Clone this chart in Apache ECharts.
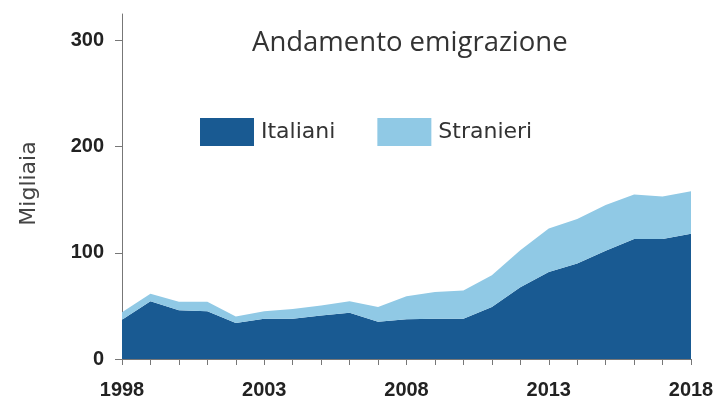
<!DOCTYPE html>
<html>
<head>
<meta charset="utf-8">
<script src="https://cdn.jsdelivr.net/npm/echarts@6/dist/echarts.min.js"></script>
<style>html,body{margin:0;padding:0;background:#fff;}#c{width:717px;height:403px;}</style>
</head>
<body>
<div id="c"></div>
<script>
const years = ['1998','1999','2000','2001','2002','2003','2004','2005','2006','2007','2008','2009','2010','2011','2012','2013','2014','2015','2016','2017','2018'];
const italiani = [37, 54.5, 46, 45, 34, 38, 38, 41, 43.5, 35, 37.5, 38, 38, 49, 67.5, 82, 90, 102, 113, 113, 118];
const stranieri = [7, 7, 8, 9, 6, 7, 9, 9.5, 11, 14, 21.5, 25, 26.5, 30, 35, 41, 42, 43, 42, 40, 40];
const yTicks = [0, 100, 200, 300];

const labelFont = {fontFamily: '"Liberation Sans",Arial,sans-serif', fontWeight: 'bold', fontSize: 20, color: '#222'};

const chart = echarts.init(document.getElementById('c'), null, {renderer: 'canvas'});
chart.setOption({
  animation: false,
  backgroundColor: '#fff',
  title: {
    text: 'Andamento emigrazione',
    left: 247, top: 24,
    textStyle: {fontFamily: '"Open Sans",sans-serif', fontWeight: 'normal', fontSize: 27.5, color: '#333'}
  },
  legend: {
    left: 195, top: 113,
    icon: 'rect', itemWidth: 54, itemHeight: 28, itemGap: 42,
    textStyle: {fontFamily: '"DejaVu Sans",sans-serif', fontSize: 22, color: '#333', padding: [0, 0, 0, 2]},
    data: ['Italiani', 'Stranieri']
  },
  grid: {left: 122, right: 26, top: 14, bottom: 44, containLabel: false},
  xAxis: {
    type: 'category', data: years, boundaryGap: false,
    axisLine: {lineStyle: {color: '#777', width: 1}},
    axisTick: {show: true, interval: 0, length: 6, lineStyle: {color: '#777'}},
    axisLabel: Object.assign({interval: 4, margin: 21}, labelFont),
    splitLine: {show: false}
  },
  yAxis: {
    type: 'value', min: 0, max: 325, interval: 100,
    name: 'Migliaia', nameLocation: 'middle', nameGap: 82, nameRotate: 90,
    nameTextStyle: {fontFamily: '"DejaVu Sans",sans-serif', fontSize: 22, color: '#444', padding: [0, 0, 0, 6]},
    axisLine: {show: true, lineStyle: {color: '#777', width: 1}},
    axisTick: {show: true, length: 7, customValues: yTicks, lineStyle: {color: '#777'}},
    axisLabel: Object.assign({margin: 18, customValues: yTicks}, labelFont),
    splitLine: {show: false}
  },
  series: [
    {
      name: 'Italiani', type: 'line', stack: 'tot', data: italiani,
      symbol: 'none', lineStyle: {width: 0}, itemStyle: {color: '#195a92'},
      areaStyle: {color: '#195a92', opacity: 1}
    },
    {
      name: 'Stranieri', type: 'line', stack: 'tot', data: stranieri,
      symbol: 'none', lineStyle: {width: 0}, itemStyle: {color: '#90c9e5'},
      areaStyle: {color: '#90c9e5', opacity: 1}
    }
  ]
});
</script>
</body>
</html>
